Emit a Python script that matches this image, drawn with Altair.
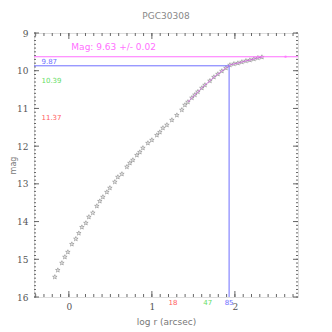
import altair as alt
import pandas as pd

# ---- data ----
log_r = [-0.169, -0.133, -0.084, -0.048, -0.012, 0.036, 0.084, 0.120, 0.157, 0.205,
         0.241, 0.289, 0.337, 0.373, 0.410, 0.458, 0.494, 0.554, 0.590, 0.639,
         0.699, 0.735, 0.771, 0.819, 0.855, 0.892, 0.952, 1.000, 1.060, 1.096,
         1.133, 1.181, 1.241, 1.301, 1.361, 1.398, 1.434, 1.482, 1.518, 1.554,
         1.602, 1.639, 1.699, 1.747, 1.795, 1.843, 1.892, 1.940, 1.988, 2.036,
         2.084, 2.133, 2.181, 2.229, 2.277, 2.325]
mag = [15.47, 15.29, 15.10, 14.94, 14.81, 14.60, 14.46, 14.31, 14.15, 14.04,
       13.88, 13.77, 13.59, 13.46, 13.35, 13.22, 13.11, 12.95, 12.82, 12.74,
       12.55, 12.45, 12.37, 12.24, 12.16, 12.05, 11.92, 11.84, 11.71, 11.63,
       11.52, 11.44, 11.31, 11.18, 11.04, 10.91, 10.83, 10.72, 10.64, 10.56,
       10.46, 10.38, 10.27, 10.17, 10.09, 10.01, 9.93, 9.85, 9.82, 9.80,
       9.77, 9.74, 9.72, 9.69, 9.66, 9.64]
fit_start = 1.43           # magenta curve drawn over the outer points

total_mag = 9.63
mag_text = "Mag:  9.63 +/- 0.02"
asym_point = [2.61, 9.63]

# level labels: (mag, radius label, log radius, colour)
lev_mag = [9.87, 10.39, 11.37]
lev_mag_txt = ["9.87", "10.39", "11.37"]
lev_r_txt = ["85", "47", "18"]
lev_logr = [1.93, 1.672, 1.255]
lev_col = ["#6e6eff", "#66dd66", "#ff6060"]

x_labels = [0, 1, 2]
y_labels = [9, 10, 11, 12, 13, 14, 15, 16]
x_dom = [-0.42, 2.76]
y_dom = [9, 16]

W, H = 264, 264
FRAME = "#666666"
MAGENTA = "#ff70ff"

xs = alt.Scale(domain=x_dom, nice=False, zero=False)
ys = alt.Scale(domain=y_dom, reverse=True, nice=False, zero=False)

XA = alt.Axis(values=x_labels, title="log r (arcsec)", tickSize=0, domain=False, grid=False,
              labelPadding=5, labelFont="DejaVu Serif", labelFontSize=9, labelColor="#555",
              titleFont="DejaVu Sans", titleFontSize=9, titleFontWeight="normal",
              titleColor="#777", titlePadding=6)
YA = alt.Axis(values=y_labels, title="mag", tickSize=0, domain=False, grid=False,
              labelPadding=6, labelFont="DejaVu Serif", labelFontSize=9, labelColor="#555",
              titleFont="DejaVu Sans", titleFontSize=8, titleFontWeight="normal",
              titleColor="#777", titlePadding=-1)


def X(f):
    return alt.X(f, type="quantitative", scale=xs, axis=XA)


def Y(f):
    return alt.Y(f, type="quantitative", scale=ys, axis=YA)


pts = pd.DataFrame({"logr": log_r, "mag": mag})
fit = pts[pts.logr >= fit_start]

STAR = ("M0,-1L0.22,-0.31L0.95,-0.31L0.36,0.12L0.59,0.81L0,0.38L-0.59,0.81"
        "L-0.36,0.12L-0.95,-0.31L-0.22,-0.31Z")

points = alt.Chart(pts).mark_point(shape=STAR, size=22, filled=False,
                                   color="#666666", strokeWidth=0.7).encode(
    x=X("logr"), y=Y("mag"))

fit_line = alt.Chart(fit).mark_line(color="#d060e0", strokeWidth=1, opacity=0.8).encode(
    x=X("logr"), y=Y("mag"))

hline = alt.Chart(pd.DataFrame({"m": [total_mag]})).mark_rule(
    color=MAGENTA, strokeWidth=1).encode(y=Y("m"), x=alt.value(0), x2=alt.value(W))

mag_lbl = alt.Chart(pd.DataFrame({"x": [0.03], "y": [9.37], "t": [mag_text]})).mark_text(
    align="left", baseline="middle", color=MAGENTA, fontSize=9, font="DejaVu Sans").encode(
    x=X("x"), y=Y("y"), text="t:N")

apt = alt.Chart(pd.DataFrame({"x": [asym_point[0]], "y": [asym_point[1]]})).mark_point(
    filled=True, size=6, color=MAGENTA).encode(x=X("x"), y=Y("y"))

lev = pd.DataFrame({"m": lev_mag, "mt": lev_mag_txt, "rt": lev_r_txt,
                    "lr": lev_logr, "c": lev_col, "x0": [x_dom[0]] * 3,
                    "xl": [-0.33] * 3, "yb": [16.17] * 3, "ytop": [16] * 3})
blue = lev.iloc[[0]]

bh = alt.Chart(blue).mark_rule(color=lev_col[0], strokeWidth=1).encode(
    x=X("x0"), x2="lr:Q", y=Y("m"))
bv = alt.Chart(blue).mark_rule(color=lev_col[0], strokeWidth=1).encode(
    x=X("lr"), y=Y("m"), y2="ytop:Q")

lev_txt = alt.Chart(lev).mark_text(align="left", baseline="middle", dy=-4,
                                   fontSize=7, font="DejaVu Sans").encode(
    x=X("xl"), y=Y("m"), text="mt:N", color=alt.Color("c:N", scale=None))
r_txt = alt.Chart(lev).mark_text(align="center", baseline="middle",
                                 fontSize=7, font="DejaVu Sans").encode(
    x=X("lr"), y=Y("yb"), text="rt:N", color=alt.Color("c:N", scale=None))

# frame ticks (inward)
x_minor = [round(-0.4 + 0.1 * i, 2) for i in range(32)]
y_minor = [round(9 + 0.1 * i, 2) for i in range(71)]
xmaj = pd.DataFrame({"v": x_labels})
xmin = pd.DataFrame({"v": x_minor})
ymaj = pd.DataFrame({"v": y_labels})
ymin = pd.DataFrame({"v": y_minor})


def xticks(df, L):
    b = alt.Chart(df).mark_rule(color=FRAME, strokeWidth=1).encode(
        x=X("v"), y=alt.value(H), y2=alt.value(H - L))
    t = alt.Chart(df).mark_rule(color=FRAME, strokeWidth=1).encode(
        x=X("v"), y=alt.value(0), y2=alt.value(L))
    return [b, t]


def yticks(df, L):
    l = alt.Chart(df).mark_rule(color=FRAME, strokeWidth=1).encode(
        y=Y("v"), x=alt.value(0), x2=alt.value(L))
    r = alt.Chart(df).mark_rule(color=FRAME, strokeWidth=1).encode(
        y=Y("v"), x=alt.value(W), x2=alt.value(W - L))
    return [l, r]


ticks = xticks(xmin, 3) + xticks(xmaj, 6) + yticks(ymin, 2) + yticks(ymaj, 5)

chart = alt.layer(points, *ticks, hline, bh, bv, fit_line, mag_lbl, apt, lev_txt, r_txt).properties(
    width=W, height=H,
    title=alt.TitleParams("PGC30308", fontSize=9, color="#888", font="DejaVu Sans",
                          fontWeight="normal", offset=8),
    padding={"left": 26, "top": 25, "right": 26, "bottom": 35},
    autosize="none",
).configure_view(stroke=FRAME, strokeWidth=1).configure(background="white")

chart.save("out.html", embed_options={"renderer": "svg", "actions": False})
